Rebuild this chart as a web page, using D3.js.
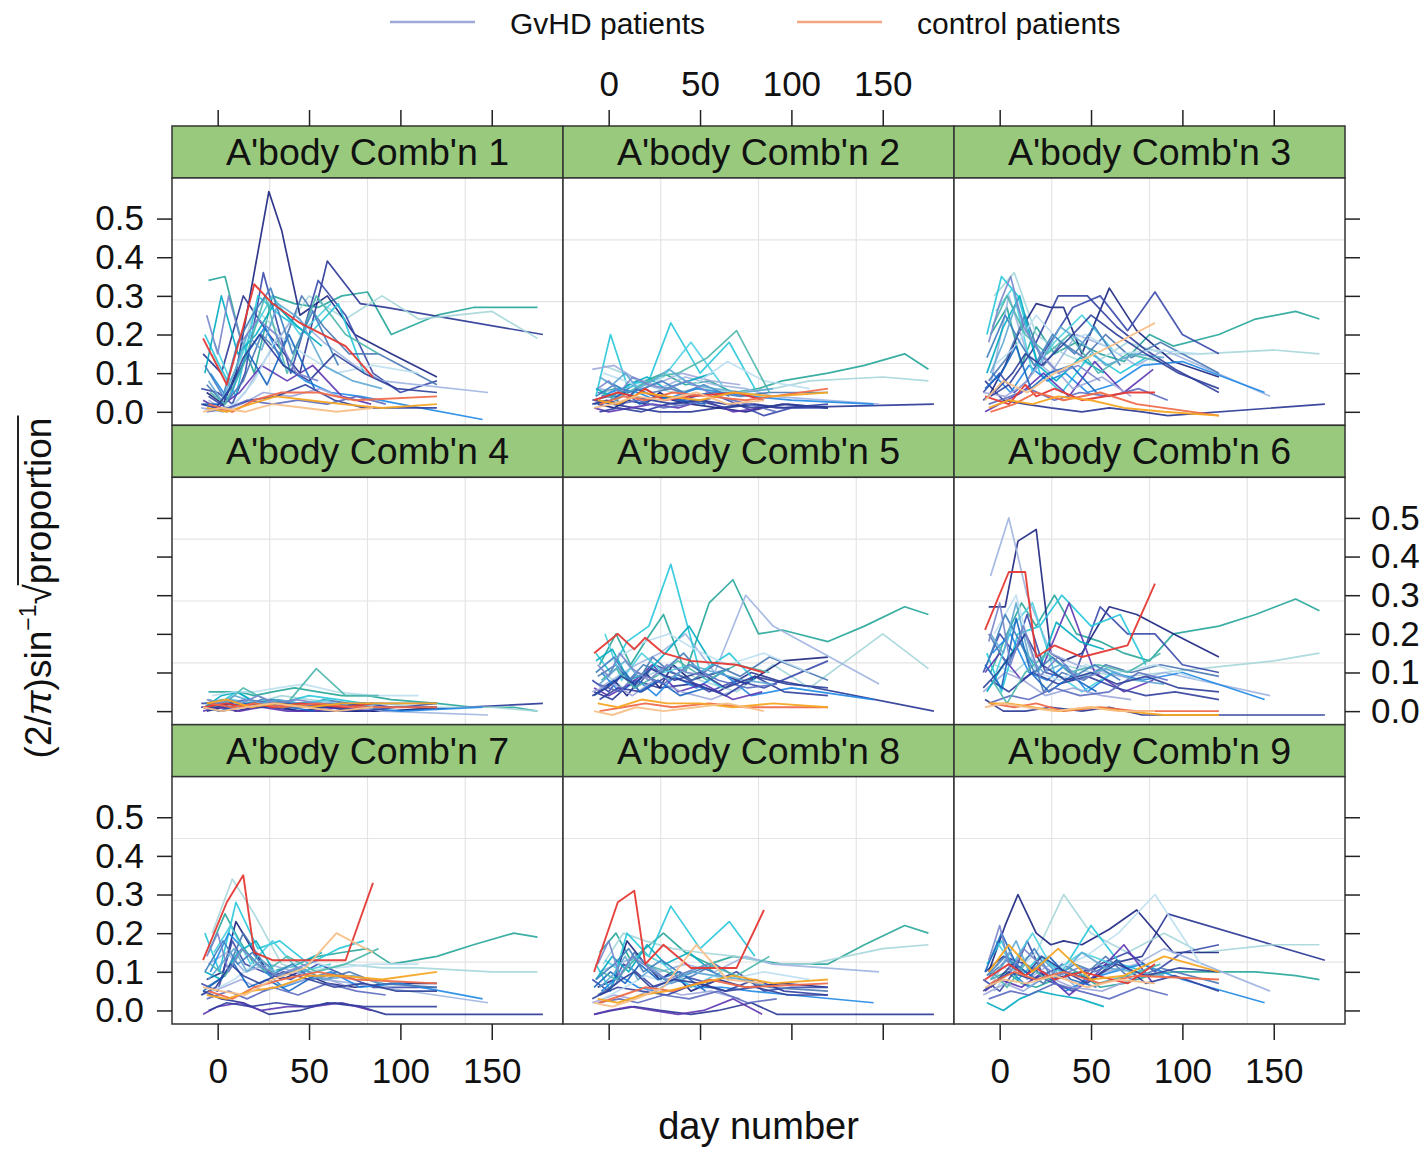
<!DOCTYPE html>
<html>
<head>
<meta charset="utf-8">
<script src="https://cdn.jsdelivr.net/npm/d3@7"></script>
<style>
body { margin: 0; background: #fff; }
svg text { font-family: "Liberation Sans", Arial, Helvetica, sans-serif; fill: #111; }
</style>
</head>
<body>
<div id="chart"></div>
<script>
// ---- data ----
const panelNames = ["A'body Comb'n 1", "A'body Comb'n 2", "A'body Comb'n 3",
                    "A'body Comb'n 4", "A'body Comb'n 5", "A'body Comb'n 6",
                    "A'body Comb'n 7", "A'body Comb'n 8", "A'body Comb'n 9"];
const xTicks = [0, 50, 100, 150];
const yTicks = [0, 0.1, 0.2, 0.3, 0.4, 0.5];
const legendLabels = ["GvHD patients", "control patients"];

// sampling days for each patient (22 GvHD, then 4 controls)
const patientDays = [
  "-5 4 12 20 30 42 55 68 82 95 120 140 162 175",
  "-8 2 14 28 45 60 78 92 178",
  "-3 8 20 35 50 70 90 110 150 175",
  "-6 3 10 20 28 35 45 60 75 95 120",
  "-9 0 8 15 25 40 55 70 85 100 120",
  "-5 5 15 28 42 58 75 90 148",
  "-7 1 10 22 34 50 66 80",
  "-4 6 16 26 36 48 62 78 100 145",
  "-8 0 12 24 38 52 68 84",
  "-6 4 14 24 34 46 58 72 88 120",
  "-2 7 18 30 45 62",
  "-9 3 13 25 40 56 72",
  "-5 5 18 32 48 64 80 96 120",
  "-7 2 11 21 31 44 57",
  "-3 9 20 33 47 65 85 110",
  "-8 1 9 17 27 39 53",
  "-6 6 16 30 44 60 76 92",
  "-4 4 14 26 38 54 70 88",
  "-7 3 11 19 29 41 52 66",
  "-5 2 9 16 24 33 45 58 74 90",
  "-9 -1 7 14 23 36 50 64 80 98 120",
  "-6 0 6 13 22 32 43 55",
  // controls
  "-8 5 14 20 30 45 70 85",
  "-5 8 20 35 55 75 120",
  "-6 5 18 32 50 68 90 120",
  "-8 2 15 30 48 65 85"
];
const patientGroup = ["g","g","g","g","g","g","g","g","g","g","g","g","g","g","g","g","g","g","g","g","g","g",
                      "c","c","c","c"];

// transformed proportions, in hundredths
const comb1 = [
  "34 35 20 10 30 28 27 30 31 20 25 27 27 27", "15 10 30 20 10 39 28 27 20",
  "15 5 27 20 30 24 30 24 26 19", "5 2 10 36 57 47 25 30 20 15 9",
  "6 5 2 10 36 10 34 25 10 5 8", "3 0 5 15 25 18 12 8 5", "20 12 4 30 25 20 28 10",
  "10 3 15 22 12 8 5 4 2 -2", "3 1 5 12 8 12 4 2", "7 2 8 20 15 30 22 15 15 7",
  "18 8 20 30 20 28", "1 0 2 5 4 6 3", "4 1 3 4 7 3 1 1 1", "10 30 15 20 28 22 17",
  "0 2 8 20 15 10 12 10", "2 2 8 15 7 20 6", "0 1 3 2 3 2 4 2", "5 2 12 30 10 30 20 15",
  "12 4 18 25 32 15 26 12", "8 3 10 20 16 28 24 12 8 6", "2 1 6 14 20 12 8 15 10 6 5",
  "25 15 30 18 24 20 10 8",
  "19 7 22 33 28 23 17 9", "2 0 3 5 5 3 4", "1 0 2 4 3 2 1 2", "0 1 0 2 1 0 1"
];
const comb2 = [
  "5 6 4 8 10 7 8 5 6 8 10 12 15 11", "3 2 1 0 0 1 2 1 2",
  "12 10 7 5 6 5 6 8 9 8", "2 1 3 2 5 3 2 1 0 2 1",
  "3 4 2 6 4 3 5 2 -1 1 1", "6 5 8 6 9 7 6 4 2", "4 20 7 8 23 10 18 6",
  "4 6 5 3 4 6 5 4 3 2", "1 0 1 2 1 3 0 1", "5 4 7 5 6 4 5 4 5 5",
  "8 6 7 9 18 7", "11 12 9 7 10 8 7", "0 1 0 2 3 1 2 1 2", "6 4 7 9 6 8 10",
  "10 8 6 10 7 13 8 6", "2 3 5 2 4 3 2", "3 2 3 1 2 4 2 0", "5 3 6 9 10 14 21 5",
  "4 7 5 6 8 5 7 4", "9 7 10 6 8 11 7 6 5 6", "2 3 2 4 3 2 3 2 1 2 1",
  "6 8 5 9 7 6 8 5",
  "3 5 4 6 3 4 5 3", "2 4 3 5 4 3 6", "3 2 5 4 3 5 4 5", "1 2 4 3 5 2 3"
];
const comb3 = [
  "20 27 12 22 15 18 15 13 20 17 20 24 26 24", "8 3 2 1 0 1 0 -1 2",
  "30 36 20 15 12 18 15 15 16 15", "4 12 20 28 27 27 15 32 21 13 9",
  "5 10 5 8 16 27 30 21 31 20 15", "7 30 15 10 20 17 12 16 4", "20 35 30 10 5 15 10 14",
  "10 5 12 8 10 5 7 12 13 5", "0 2 5 10 4 13 5 11", "8 14 25 12 18 14 20 14 18 10",
  "26 32 10 18 25 16", "5 4 7 14 6 9 4", "4 7 16 30 30 22 16 11 5", "10 22 30 12 8 14 10",
  "12 17 25 18 20 15 16 15", "6 10 17 6 10 12 5", "2 4 6 3 5 4 6 3", "22 30 20 15 20 10 15 13",
  "14 25 18 12 20 15 22 12", "10 18 28 20 14 22 18 12 15 14", "3 6 10 15 12 18 25 20 15 10 6",
  "18 28 35 22 15 10 12 8",
  "4 2 7 4 6 3 5 5", "0 2 5 3 5 2 -1", "1 3 2 4 3 1 0 -1", "3 8 5 10 14 18 23"
];
const comb4 = [
  "5 5 5 4 5 6 5 4 4 3 2 1 1 0", "1 0 1 1 0 0 0 0 2",
  "2 3 2 4 3 2 2 1 1 0", "0 1 0 1 2 1 0 1 0 0 1",
  "2 2 1 2 1 2 1 2 1 1 2", "1 2 3 1 1 2 1 0 -1", "1 2 5 2 2 4 3 2",
  "2 1 2 1 2 1 2 1 0 1", "0 1 0 1 0 0 1 0", "1 2 1 3 2 1 3 2 2 2",
  "2 3 2 3 2 3", "1 2 1 2 1 2 1", "2 1 2 1 2 1 2 1 1", "1 4 5 2 3 2 2",
  "4 5 5 6 7 5 4 4", "1 0 1 2 1 1 0", "2 2 3 2 1 2 1 1", "1 2 6 3 2 11 4 4",
  "2 3 2 1 3 2 1 2", "3 2 4 3 2 3 2 2 1 2", "1 1 2 1 1 2 1 1 0 1 1",
  "3 2 3 2 4 2 3 2",
  "1 2 1 2 1 2 1 2", "2 1 2 1 2 1 1", "2 3 1 2 1 2 2 2", "1 0 1 2 1 0 1"
];
const comb5 = [
  "12 20 12 18 25 10 28 34 20 21 18 22 27 25", "5 3 8 6 7 5 10 8 0",
  "10 6 9 12 8 5 12 6 20 11", "5 8 4 10 6 12 8 10 7 13 14",
  "8 5 10 6 12 9 5 8 6 9 13", "6 9 12 15 20 10 30 22 7", "15 10 18 22 38 10 15 8",
  "10 5 8 4 9 6 10 4 6 3", "6 4 7 12 5 7 3 5", "9 12 6 14 10 8 12 9 14 8",
  "20 8 15 10 12 6", "5 7 4 8 5 3 6", "3 6 5 9 7 4 9 5 4", "13 16 8 10 15 22 12",
  "12 15 18 20 16 12 15 10", "4 7 10 5 8 4 6", "7 5 10 7 12 8 6 7", "8 11 6 9 13 8 12 10",
  "10 14 8 12 10 15 9 11", "7 10 13 9 11 8 12 10 8 7", "4 6 9 7 11 8 10 6 9 7 6",
  "12 9 15 11 8 12 10 9",
  "15 20 16 19 15 13 12 10", "0 1 2 1 2 1 1", "2 1 3 2 2 1 2 1", "0 -1 1 0 1 2 0"
];
const comb6 = [
  "10 20 28 22 30 20 18 15 13 20 22 25 29 26", "3 0 0 1 0 1 -1 -1 -1",
  "12 10 15 12 10 9 10 11 13 15", "27 27 44 47 15 13 15 27 25 20 14",
  "10 20 15 25 10 8 27 20 20 12 10", "35 50 30 15 12 10 8 10 4", "15 5 20 22 30 22 25 12",
  "15 20 10 8 12 5 10 8 10 3", "10 15 8 12 28 10 5 8", "20 12 20 5 10 8 12 10 12 9",
  "10 22 28 10 5 10", "5 10 8 4 6 4 3", "8 5 10 7 9 6 4 5 3", "5 12 18 10 23 18 16",
  "20 30 10 8 12 10 12 8", "12 6 24 10 5 9 5", "2 4 3 6 4 5 10 8", "8 2 10 15 10 12 10 15",
  "12 25 18 10 14 9 12 8", "20 15 28 14 10 12 9 11 8 7", "6 10 15 20 12 8 10 7 9 6 5",
  "18 28 12 22 9 14 8 10",
  "21 36 36 14 17 14 17 33", "2 1 2 0 1 0 0", "2 2 1 0 1 0 -1 -1", "1 2 1 0 1 0 0"
];
const comb7 = [
  "15 25 18 12 10 12 14 15 16 12 14 17 20 19", "5 3 2 -1 0 2 1 -1 -1",
  "20 34 25 12 10 12 11 11 10 10", "8 10 23 15 10 8 10 7 6 7 7",
  "7 5 18 12 10 8 12 9 6 6 6", "12 15 10 12 10 8 7 6 2", "20 10 28 16 18 12 16 18",
  "10 20 15 10 6 8 10 6 7 3", "-1 1 2 0 1 1 2 0", "6 9 20 13 9 11 8 10 7 6",
  "15 22 12 18 10 12", "4 6 8 5 7 9 6", "0 2 1 2 1 2 1 1 1", "10 8 15 18 10 12 15",
  "5 8 12 10 13 11 12 12", "5 8 12 6 8 5 9", "3 5 3 6 4 7 5 4", "12 9 16 10 14 10 12 16",
  "10 18 12 15 9 12 8 10", "8 12 16 10 13 9 11 8 9 7", "4 6 12 9 7 10 8 6 7 5 5",
  "14 20 10 16 12 9 11 13",
  "13 28 35 15 13 13 13 33", "5 3 6 8 10 8 7", "4 3 5 6 9 9 8 10", "6 5 4 8 11 20 15"
];
const comb8 = [
  "15 20 13 16 20 15 12 14 13 12 12 17 22 20", "-1 0 1 0 -1 0 2 -1 -1",
  "12 20 18 16 15 14 12 12 16 17", "6 8 18 12 8 10 5 8 6 7 6",
  "8 5 12 10 6 9 7 10 5 6 6", "10 12 14 10 12 10 14 12 10", "12 5 20 14 27 16 23 14",
  "5 9 6 5 8 6 6 5 4 2", "-1 0 1 0 -1 0 3 -1", "4 7 15 10 7 9 12 8 6 5",
  "13 10 15 12 6 10", "2 4 3 6 4 5 3", "4 6 5 4 7 5 8 5 4", "8 14 10 17 12 15 10",
  "3 6 9 7 10 8 10 8", "6 10 7 12 8 10 5", "2 3 2 4 3 5 2 3", "10 8 13 11 9 12 9 14",
  "8 12 16 10 13 9 11 8", "6 9 14 8 11 7 10 9 8 6", "3 5 8 10 6 8 7 5 6 4 4",
  "12 18 9 14 11 8 10 12",
  "10 28 31 12 17 11 11 26", "2 4 6 5 8 6 7", "3 2 4 5 7 9 7 8", "2 1 3 6 17 8 7"
];
const comb9 = [
  "8 10 7 6 8 10 6 7 9 10 10 10 9 8", "10 14 12 8 10 12 14 25 13",
  "5 12 15 30 20 15 20 15 17 17", "10 22 30 20 17 18 17 21 26 15 15",
  "8 5 10 18 8 5 12 15 10 15 17", "6 15 8 12 6 10 12 16 5", "12 18 8 14 10 22 12 10",
  "7 10 6 9 5 8 10 12 8 2", "5 8 6 10 4 9 17 7", "9 13 10 7 12 9 14 8 11 7",
  "18 12 20 10 15 12", "4 7 5 9 6 5 8", "6 10 8 11 7 13 7 9 5", "2 0 3 5 4 3 1",
  "12 10 15 11 14 20 30 12", "10 20 12 9 14 8 6", "3 5 4 7 5 3 6 4", "10 6 12 8 11 7 9 12",
  "9 14 11 16 8 12 10 13", "8 12 18 10 13 9 15 11 10 9", "5 8 12 9 14 10 8 12 9 11 10",
  "13 22 10 16 12 9 11 10",
  "8 12 9 11 8 10 7 12", "7 10 8 10 7 9 8", "10 17 10 16 8 9 14 10", "6 8 7 9 6 8 7"
];
const combValues = [comb1, comb2, comb3, comb4, comb5, comb6, comb7, comb8, comb9];

const gvhdColors = ["#26a69a", "#283593", "#a6d6da", "#1a237e", "#3949ab", "#9fb4e0",
                    "#26c6da", "#1e88e5", "#5e35b1", "#4a78b5", "#4dd0e1", "#9fa8da",
                    "#303f9f", "#00acc1", "#bcdff0", "#1565c0", "#5c6bc0", "#4db6ac",
                    "#3f7fbf", "#5fa8d3", "#2e3f99", "#7986cb"];
const controlColors = ["#e53935", "#ef6c4a", "#f5a623", "#f7c08a"];

// ---- layout ----
const W = 1428, H = 1149;
const left = 172, top0 = 126, colW = 391, rowH = 299.33, stripH = 52;
const plotH = rowH - stripH;

const svg = d3.select('#chart').append('svg')
  .attr('width', W).attr('height', H);

const x = d3.scaleLinear().domain([-25, 189]).range([0, colW]);
const y = d3.scaleLinear().domain([-0.035, 0.605]).range([plotH, 0]);

const toNums = s => s.trim().split(/\s+/).map(Number);
const days = patientDays.map(toNums);

const line = d3.line()
  .x(d => x(d[0]))
  .y(d => y(d[1]));

svg.append('defs').append('clipPath').attr('id', 'plot-clip')
  .append('rect').attr('width', colW).attr('height', plotH);

panelNames.forEach(function(name, i) {
  let r = Math.floor(i / 3), c = i % 3;
  let px = left + c * colW, py = top0 + r * rowH;

  // strip
  svg.append('rect')
    .attr('x', px).attr('y', py).attr('width', colW).attr('height', stripH)
    .attr('fill', '#98c97d').attr('stroke', '#333').attr('stroke-width', 1.5);
  svg.append('text')
    .attr('x', px + colW / 2).attr('y', py + stripH / 2 + 13)
    .attr('text-anchor', 'middle').attr('font-size', 37.5)
    .text(name);

  let g = svg.append('g').attr('transform', `translate(${px},${py + stripH})`);
  g.append('rect').attr('width', colW).attr('height', plotH).attr('fill', '#fff');

  // grid: panel split in quarters
  [1, 2, 3].forEach(function(k) {
    g.append('line').attr('x1', colW * k / 4).attr('x2', colW * k / 4)
      .attr('y1', 0).attr('y2', plotH).attr('stroke', '#e4e4e4').attr('stroke-width', 1.2);
    g.append('line').attr('y1', plotH * k / 4).attr('y2', plotH * k / 4)
      .attr('x1', 0).attr('x2', colW).attr('stroke', '#e4e4e4').attr('stroke-width', 1.2);
  });

  let lines = g.append('g').attr('clip-path', 'url(#plot-clip)');
  let vals = combValues[i];
  let series = vals.map(function(s, j) {
    let v = toNums(s), d = days[j];
    let n = Math.min(v.length, d.length);
    return { group: patientGroup[j], idx: j, pts: d3.range(n).map(k => [d[k], v[k] / 100]) };
  });
  // GvHD first, controls drawn on top
  let gv = series.filter(s => s.group === 'g');
  let ct = series.filter(s => s.group === 'c');
  lines.selectAll('path.gvhd').data(gv).enter().append('path')
    .attr('class', 'gvhd')
    .attr('d', s => line(s.pts))
    .attr('fill', 'none')
    .attr('stroke', (s, k) => gvhdColors[k % gvhdColors.length])
    .attr('stroke-width', 1.7)
    .attr('stroke-linejoin', 'round')
    .attr('opacity', 0.9);
  lines.selectAll('path.ctrl').data(ct).enter().append('path')
    .attr('class', 'ctrl')
    .attr('d', s => line(s.pts))
    .attr('fill', 'none')
    .attr('stroke', (s, k) => controlColors[k % controlColors.length])
    .attr('stroke-width', 1.9)
    .attr('stroke-linejoin', 'round')
    .attr('opacity', 0.95);

  g.append('rect').attr('width', colW).attr('height', plotH)
    .attr('fill', 'none').attr('stroke', '#333').attr('stroke-width', 1.5);
});

// ---- axes (lattice style: alternating labels) ----
function styleAxis(sel) {
  sel.select('.domain').remove();
  sel.selectAll('.tick line').attr('stroke', '#222').attr('stroke-width', 1.5);
  sel.selectAll('.tick text').attr('font-size', 35).attr('fill', '#111')
    .style('font-family', '"Liberation Sans", Arial, sans-serif');
}
const bottomY = top0 + 3 * rowH;
for (let c = 0; c < 3; c++) {
  let px = left + c * colW;
  let topAxis = d3.axisTop(x).tickValues(xTicks).tickSize(16).tickPadding(14)
    .tickFormat(c === 1 ? d3.format('d') : () => '');
  svg.append('g').attr('transform', `translate(${px},${top0})`).call(topAxis).call(styleAxis);
  let botAxis = d3.axisBottom(x).tickValues(xTicks).tickSize(16).tickPadding(18)
    .tickFormat(c !== 1 ? d3.format('d') : () => '');
  svg.append('g').attr('transform', `translate(${px},${bottomY})`).call(botAxis).call(styleAxis);
}
for (let r = 0; r < 3; r++) {
  let py = top0 + r * rowH + stripH;
  let leftAxis = d3.axisLeft(y).tickValues(yTicks).tickSize(15).tickPadding(13)
    .tickFormat(r !== 1 ? d3.format('.1f') : () => '');
  svg.append('g').attr('transform', `translate(${left},${py})`).call(leftAxis).call(styleAxis);
  let rightAxis = d3.axisRight(y).tickValues(yTicks).tickSize(15).tickPadding(11)
    .tickFormat(r === 1 ? d3.format('.1f') : () => '');
  svg.append('g').attr('transform', `translate(${left + 3 * colW},${py})`).call(rightAxis).call(styleAxis);
}

// ---- axis titles ----
svg.append('text')
  .attr('x', left + 1.5 * colW).attr('y', 1139)
  .attr('text-anchor', 'middle').attr('font-size', 38)
  .text('day number');

let ylab = svg.append('g').attr('transform', 'translate(51,588) rotate(-90)');
let yt = ylab.append('text').attr('font-size', 37);
yt.append('tspan').text('(2/');
yt.append('tspan').attr('font-style', 'italic').text('π');
yt.append('tspan').text(')sin');
yt.append('tspan').attr('dy', -15).attr('font-size', 23).text('−1');
yt.append('tspan').attr('dy', 15).text('√');
yt.append('tspan').text('proportion');
let total = yt.node().getComputedTextLength();
let before = yt.node().getSubStringLength(0, 11);
yt.attr('x', -total / 2);
ylab.append('line')
  .attr('x1', -total / 2 + before - 1).attr('x2', total / 2 + 2)
  .attr('y1', -33).attr('y2', -33)
  .attr('stroke', '#222').attr('stroke-width', 2);

// ---- legend ----
const legendItems = [
  { label: legendLabels[0], color: '#9ea9d8', x0: 390 },
  { label: legendLabels[1], color: '#f4a582', x0: 797 }
];
legendItems.forEach(function(d) {
  svg.append('line').attr('x1', d.x0).attr('x2', d.x0 + 85)
    .attr('y1', 22).attr('y2', 22)
    .attr('stroke', d.color).attr('stroke-width', 2.5);
  svg.append('text').attr('x', d.x0 + 120).attr('y', 34)
    .attr('font-size', 30).text(d.label);
});
</script>
</body>
</html>
